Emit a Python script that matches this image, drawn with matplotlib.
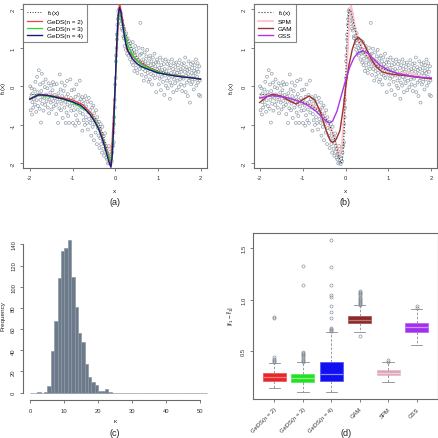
import matplotlib
matplotlib.use("Agg")
import matplotlib.pyplot as plt

plt.rcParams["font.family"] = ["Liberation Sans", "DejaVu Sans"]
plt.rcParams["axes.unicode_minus"] = False
plt.rcParams["mathtext.default"] = "regular"

# ---- simulated sample (shared by panels a and b) ----
pts_x = [
    -1.99, -1.98, -1.97, -1.96, -1.95, -1.94, -1.93, -1.92, -1.91, -1.89, -1.88, -1.87, -1.86, -1.85, -1.84, -1.83, -1.82, -1.81,
    -1.79, -1.78, -1.77, -1.76, -1.75, -1.74, -1.73, -1.72, -1.71, -1.70, -1.69, -1.68, -1.66, -1.65, -1.64, -1.63, -1.62, -1.61,
    -1.59, -1.58, -1.57, -1.56, -1.55, -1.54, -1.52, -1.51, -1.50, -1.49, -1.48, -1.47, -1.46, -1.45, -1.44, -1.43, -1.42, -1.41,
    -1.39, -1.38, -1.37, -1.36, -1.35, -1.34, -1.33, -1.31, -1.30, -1.29, -1.28, -1.27, -1.26, -1.25, -1.24, -1.23, -1.22, -1.21,
    -1.19, -1.18, -1.17, -1.16, -1.15, -1.14, -1.13, -1.12, -1.11, -1.10, -1.09, -1.08, -1.06, -1.05, -1.04, -1.03, -1.02, -1.01,
    -0.99, -0.98, -0.97, -0.96, -0.95, -0.94, -0.93, -0.92, -0.91, -0.90, -0.89, -0.88, -0.86, -0.85, -0.84, -0.83, -0.82, -0.81,
    -0.79, -0.78, -0.77, -0.76, -0.75, -0.74, -0.73, -0.72, -0.71, -0.70, -0.69, -0.68, -0.66, -0.65, -0.64, -0.63, -0.62, -0.61,
    -0.59, -0.58, -0.57, -0.56, -0.55, -0.54, -0.53, -0.52, -0.51, -0.50, -0.49, -0.48, -0.46, -0.45, -0.44, -0.43, -0.42, -0.41,
    -0.39, -0.38, -0.37, -0.36, -0.35, -0.34, -0.33, -0.32, -0.31, -0.30, -0.29, -0.28, -0.27, -0.26, -0.25, -0.24, -0.23, -0.22, -0.21,
    -0.20, -0.19, -0.18, -0.17, -0.16, -0.15, -0.14, -0.13, -0.12, -0.11, -0.10, -0.09, -0.08, -0.07, -0.06,
    -0.05, -0.04, -0.035, -0.03, -0.02, -0.015, -0.01, 0.0, 0.01, 0.015, 0.02, 0.03, 0.035, 0.04, 0.05,
    0.06, 0.07, 0.08, 0.09, 0.10, 0.11, 0.12, 0.13, 0.14, 0.15, 0.16, 0.17, 0.18, 0.19,
    0.20, 0.21, 0.22, 0.23, 0.24, 0.25, 0.26, 0.27, 0.28, 0.29, 0.30, 0.31, 0.32, 0.33, 0.34, 0.35, 0.36, 0.37, 0.38, 0.39,
    0.40, 0.41, 0.42, 0.43, 0.44, 0.45, 0.46, 0.47, 0.48, 0.49, 0.50, 0.51, 0.52, 0.54, 0.55, 0.56, 0.57, 0.58, 0.59,
    0.60, 0.61, 0.62, 0.63, 0.64, 0.65, 0.66, 0.67, 0.68, 0.69, 0.70, 0.71, 0.72, 0.73, 0.74, 0.75, 0.76, 0.77, 0.78, 0.79,
    0.80, 0.81, 0.82, 0.83, 0.84, 0.85, 0.86, 0.87, 0.88, 0.89, 0.90, 0.91, 0.92, 0.93, 0.94, 0.95, 0.96, 0.97, 0.98, 0.99,
    1.00, 1.01, 1.02, 1.03, 1.04, 1.05, 1.06, 1.07, 1.08, 1.09, 1.10, 1.11, 1.12, 1.13, 1.14, 1.15, 1.16, 1.17, 1.18, 1.19,
    1.20, 1.21, 1.22, 1.23, 1.24, 1.25, 1.26, 1.27, 1.28, 1.29, 1.30, 1.31, 1.32, 1.33, 1.34, 1.35, 1.36, 1.37, 1.38, 1.39,
    1.40, 1.41, 1.42, 1.43, 1.44, 1.45, 1.46, 1.47, 1.48, 1.49, 1.50, 1.51, 1.52, 1.53, 1.54, 1.55, 1.56, 1.57, 1.58, 1.59,
    1.60, 1.61, 1.62, 1.63, 1.64, 1.65, 1.66, 1.67, 1.68, 1.69, 1.70, 1.71, 1.72, 1.73, 1.74, 1.75, 1.76, 1.77, 1.78, 1.79,
    1.80, 1.81, 1.82, 1.83, 1.84, 1.85, 1.86, 1.87, 1.88, 1.89, 1.90, 1.91, 1.92, 1.93, 1.94, 1.95, 1.96, 1.97, 1.98, 1.99,
]
pts_y = [
    0.00, -0.62, -0.28, -0.05, -0.73, -0.41, -0.18, -0.55, -0.33, -0.08, -0.47, 0.12, -0.25, -0.66, -0.36, 0.25, -0.15, -0.51,
    0.42, -0.22, -0.58, 0.05, -0.35, -0.94, -0.12, 0.33, -0.45, -0.27, 0.10, -0.63, -0.30, -0.02, -0.48, 0.18, -0.21, -0.39,
    -0.05, -0.55, -0.28, 0.08, -0.70, -0.33, -0.16, -0.42, 0.02, -0.60, -0.25, -0.10, 0.11, -0.38, -0.52, 0.05, -0.22, -0.31,
    -0.48, -0.72, 0.06, -0.27, -0.40, -0.95, -0.18, -0.57, 0.31, -0.33, -0.08, -0.62, -0.45, 0.10, -0.25, -0.82, -0.36, -0.12,
    -0.55, 0.02, -0.40, -0.95, -0.28, -0.68, 0.14, -0.47, -0.20, -0.77, -0.36, -0.95, -0.52, 0.18, -0.30, -0.63, -0.10, -0.44,
    -0.95, -0.35, -0.62, -0.08, -0.50, -1.02, -0.27, -0.75, 0.05, -0.43, -0.88, -0.60, -0.22, -0.95, -0.40, 0.15, -0.68, -0.33,
    -0.55, -0.28, -1.15, -0.72, -0.45, -0.88, -0.35, -0.60, -1.00, -0.25, -0.80, -0.52, -0.95, -0.40, -1.12, -0.68, -0.30, -0.85,
    -0.62, -0.95, -0.42, -1.28, -0.78, -0.55, -1.05, -0.88, -0.50, -1.40, -0.70, -0.98, -1.20, -0.62, -0.90, -1.50, -0.80, -1.08,
    -1.28, -0.92, -1.60, -1.10, -1.35, -0.98, -1.50, -1.22, -1.72, -1.05, -1.42, -1.62, -1.30, -1.80, -1.48, -1.22, -1.70, -1.55, -1.85,
    -1.62, -1.90, -1.75, -2.00, -1.80, -1.55, -1.98, -1.82, -1.70, -2.02, -1.88, -1.60, -1.95, -1.72, -1.50,
    -1.55, -1.20, -1.45, -0.98, -0.80, -0.35, -0.55, 0.05, 0.22, 0.65, 0.80, 1.00, 1.35, 1.22, 1.60,
    1.75, 1.95, 1.85, 2.00, 1.70, 1.95, 1.80, 1.62, 1.90, 1.50, 1.72, 1.45, 1.60, 1.30,
    1.25, 1.50, 1.05, 1.30, 1.20, 0.95, 1.38, 1.12, 0.85, 1.25, 1.00, 0.80, 1.18, 0.92, 1.05, 0.70, 1.12, 0.85, 0.98, 0.62,
    0.88, 1.15, 0.55, 0.72, 0.95, 0.40, 0.82, 1.05, 0.62, 0.48, 0.90, 0.75, 0.35, 0.58, 1.00, 0.68, 0.45, 0.82, 1.65,
    0.52, 0.85, 0.30, 0.62, 0.98, 0.45, 0.70, 0.15, 0.55, 0.88, 0.40, 0.65, 0.25, 0.78, 0.50, 0.95, 0.35, 0.60, 0.12, 0.72,
    0.45, 0.18, 0.80, 0.55, 0.32, 0.65, 0.05, 0.48, 0.75, 0.28, 0.58, 0.40, 0.85, 0.22, 0.52, 0.62, -0.15, 0.38, 0.70, 0.45,
    0.30, 0.62, 0.05, 0.48, 0.20, 0.75, 0.38, -0.10, 0.55, 0.25, 0.42, 0.68, 0.12, 0.35, 0.58, -0.22, 0.45, 0.28, 0.70, 0.02,
    0.40, 0.15, 0.58, -0.05, 0.32, 0.65, 0.22, 0.48, -0.32, 0.10, 0.55, 0.35, 0.02, 0.70, 0.25, 0.45, -0.15, 0.60, 0.18, 0.38,
    0.08, 0.50, 0.28, 0.62, -0.10, 0.35, 0.15, 0.55, 0.42, -0.02, 0.30, 0.68, 0.18, 0.45, 0.05, 0.38, 0.58, -0.12, 0.25, 0.48,
    0.20, 0.60, 0.02, 0.38, 0.75, -0.15, 0.28, 0.50, 0.10, 0.42, -0.25, 0.32, 0.65, 0.15, 0.45, -0.42, 0.22, 0.58, 0.05, 0.35,
    0.48, 0.12, 0.62, 0.28, -0.08, 0.40, 0.55, 0.18, 0.35, 0.70, 0.02, 0.45, 0.25, 0.60, 0.10, 0.38, -0.22, 0.52, 0.15, -0.25,
]

# ---- true function f1 (values read at selected x) ----
f1_x = [-2, -1.5, -1, -0.8, -0.6, -0.5, -0.4, -0.3, -0.25, -0.2, -0.16, -0.13, -0.1, -0.08, -0.06, -0.04, -0.02, 0,
        0.02, 0.04, 0.06, 0.08, 0.1, 0.13, 0.16, 0.2, 0.25, 0.3, 0.4, 0.5, 0.6, 0.8, 1, 1.5, 2]
f1_y = [-0.2, -0.27, -0.4, -0.49, -0.65, -0.77, -0.94, -1.2, -1.38, -1.6, -1.79, -1.94, -2.0, -1.95, -1.76, -1.38, -0.77, 0,
        0.77, 1.38, 1.76, 1.95, 2.0, 1.94, 1.79, 1.6, 1.38, 1.2, 0.94, 0.77, 0.65, 0.49, 0.4, 0.27, 0.2]

# ---- GeDS fits (panel a) ----
geds2_x = [-2.0, -1.75, -1.35, -1.0, -0.75, -0.55, -0.35, -0.2, -0.1, 0.1, 0.18, 0.27, 0.5, 0.8, 1.1, 1.5, 2.0]
geds2_y = [-0.34, -0.2, -0.27, -0.35, -0.48, -0.72, -1.15, -1.65, -2.0, 2.2, 1.7, 0.95, 0.68, 0.48, 0.33, 0.28, 0.18]
geds3_x = [-2.0, -1.8, -1.6, -1.3, -1.0, -0.8, -0.65, -0.5, -0.4, -0.3, -0.2, -0.12, -0.08, -0.04, 0.0, 0.04, 0.08,
           0.11, 0.15, 0.2, 0.3, 0.4, 0.6, 0.8, 1.0, 1.3, 1.6, 2.0]
geds3_y = [-0.32, -0.23, -0.25, -0.30, -0.42, -0.55, -0.64, -0.85, -1.05, -1.35, -1.7, -1.92, -1.9, -1.2, 0.0, 1.3, 1.85,
           1.85, 1.75, 1.45, 1.05, 0.82, 0.58, 0.47, 0.37, 0.3, 0.25, 0.19]
geds4_x = [-2.0, -1.8, -1.6, -1.4, -1.2, -1.0, -0.8, -0.7, -0.6, -0.5, -0.4, -0.3, -0.2, -0.15, -0.1, -0.07, -0.04, 0.0,
           0.04, 0.07, 0.1, 0.13, 0.17, 0.2, 0.25, 0.3, 0.4, 0.5, 0.6, 0.8, 1.0, 1.2, 1.4, 1.6, 1.8, 2.0]
geds4_y = [-0.33, -0.22, -0.23, -0.28, -0.33, -0.4, -0.5, -0.6, -0.72, -0.88, -1.08, -1.37, -1.75, -1.95, -2.1, -1.8, -1.1, 0.05,
           1.2, 1.85, 2.05, 1.95, 1.65, 1.4, 1.1, 0.92, 0.72, 0.6, 0.52, 0.43, 0.35, 0.31, 0.27, 0.24, 0.22, 0.19]

# ---- competitor fits (panel b) ----
spm_x = [-2.0, -1.7, -1.4, -1.1, -0.8, -0.6, -0.45, -0.3, -0.2, -0.15, -0.1, -0.05, 0.0, 0.05, 0.1, 0.13, 0.17, 0.22,
         0.3, 0.4, 0.55, 0.7, 0.9, 1.1, 1.3, 1.45, 1.6, 1.8, 2.0]
spm_y = [-0.3, -0.22, -0.3, -0.38, -0.48, -0.62, -0.85, -1.2, -1.55, -1.78, -1.65, -1.1, -0.2, 0.9, 1.85, 2.1, 1.9, 1.55,
         1.2, 0.95, 0.72, 0.57, 0.45, 0.37, 0.33, 0.38, 0.3, 0.24, 0.2]
gam_x = [-2.0, -1.85, -1.7, -1.5, -1.3, -1.15, -1.0, -0.85, -0.72, -0.6, -0.45, -0.35, -0.3, -0.22, -0.13, -0.05, 0.0,
         0.08, 0.16, 0.23, 0.3, 0.38, 0.47, 0.58, 0.71, 0.85, 1.0, 1.2, 1.4, 1.6, 1.8, 2.0]
gam_y = [-0.42, -0.28, -0.2, -0.25, -0.38, -0.46, -0.35, -0.25, -0.35, -0.62, -1.15, -1.42, -1.45, -1.38, -1.15, -0.55, -0.05,
         0.55, 0.97, 1.2, 1.27, 1.2, 1.02, 0.75, 0.52, 0.38, 0.33, 0.3, 0.28, 0.25, 0.22, 0.2]
gss_x = [-2.0, -1.7, -1.4, -1.1, -0.9, -0.7, -0.55, -0.45, -0.38, -0.3, -0.2, -0.1, 0.0, 0.1, 0.2, 0.3, 0.4, 0.5,
         0.65, 0.8, 1.0, 1.2, 1.5, 1.8, 2.0]
gss_y = [-0.3, -0.24, -0.28, -0.38, -0.48, -0.63, -0.8, -0.9, -0.95, -0.9, -0.65, -0.25, 0.15, 0.5, 0.75, 0.88, 0.92, 0.88,
         0.72, 0.55, 0.42, 0.34, 0.27, 0.23, 0.22]

# ---- histogram of kappa (panel c), unit-width bins starting at 0 ----
kappa_counts = [0, 0, 1, 0, 1, 6, 39, 68, 108, 134, 137, 144, 109, 81, 56, 48, 27, 15, 10, 7, 2, 2, 3, 1] + [0] * 28

# ---- boxplot summaries (panel d) ----
box_names = ["GeDS(n = 2)", "GeDS(n = 3)", "GeDS(n = 4)", "GAM", "SPM", "GSS"]
box_q1 = [0.215, 0.200, 0.210, 0.771, 0.268, 0.684]
box_med = [0.248, 0.240, 0.283, 0.803, 0.290, 0.732]
box_q3 = [0.287, 0.277, 0.397, 0.839, 0.316, 0.774]
box_lo = [0.142, 0.109, 0.103, 0.684, 0.200, 0.558]
box_hi = [0.387, 0.393, 0.684, 0.945, 0.397, 0.907]
box_fliers = [
    [0.40, 0.41, 0.42, 0.43, 0.44, 0.82, 0.83],
    [0.40, 0.41, 0.42, 0.43, 0.44, 0.45, 0.46, 0.47, 0.48, 0.49, 1.145, 1.33],
    [0.70, 0.71, 0.72, 0.73, 0.82, 0.877, 0.935, 1.03, 1.04, 1.145, 1.32, 1.578],
    [0.645, 0.95, 0.96, 0.97, 0.98, 0.99, 1.00, 1.01, 1.02, 1.03, 1.04, 1.05, 1.06, 1.07, 1.08],
    [0.40, 0.42],
    [0.92, 0.94],
]
box_colors = ["#E8262A", "#22E022", "#1010F0", "#8B2A2A", "#DDA5B5", "#A030F0"]
box_edges = ["#F05A5C", "#5CEB5C", "#5858F4", "#A45858", "#E8BFCB", "#BA68F4"]
box_medcolors = ["#F47C7E", "#8EF08E", "#8C8CF8", "#C07878", "#F0D2DA", "#D095F8"]

FRAME = "#6a6a6a"
TICK_FS = 4.2
PT_COLOR = "#8A96A2"

W, H = 438, 439
fig = plt.figure(figsize=(W / 100, H / 100), dpi=100)


def ax_at(left, top, right, bottom):
    return fig.add_axes([left / W, 1 - bottom / H, (right - left) / W, (bottom - top) / H])


def style_axes(ax, box=True):
    for sp in ax.spines.values():
        sp.set_color(FRAME)
        sp.set_linewidth(0.8)
        sp.set_visible(box)
    ax.tick_params(length=2.4, width=0.6, color=FRAME, labelsize=TICK_FS, labelcolor="#333333", pad=2.8)
    for lab in ax.get_yticklabels():
        lab.set_rotation(90)
        lab.set_va("center")
        lab.set_ha("right")


def label(x, y, s, size=4.6, rot=0):
    fig.text(x / W, 1 - y / H, s, ha="center", va="center", fontsize=size, rotation=rot, color="#222222")


# ---- panel (a) ----
ax = ax_at(23, 5, 207, 169)
ax.scatter(pts_x, pts_y, s=4.5, facecolors="none", edgecolors=PT_COLOR, linewidths=0.45, zorder=1)
ax.plot(f1_x, f1_y, ":", color="#333333", lw=0.7, label=r"$f_1(x)$", zorder=2)
ax.plot(geds2_x, geds2_y, color="#F04040", lw=0.9, label="GeDS(n = 2)", zorder=3)
ax.plot(geds3_x, geds3_y, color="#22DD22", lw=0.9, label="GeDS(n = 3)", zorder=4)
ax.plot(geds4_x, geds4_y, color="#1A1A80", lw=1.0, label="GeDS(n = 4)", zorder=5)
ax.set_xlim(-2.16, 2.15)
ax.set_ylim(-2.12, 2.14)
ax.set_xticks([-2, -1, 0, 1, 2])
ax.set_yticks([-2, -1, 0, 1, 2])
style_axes(ax)
leg = ax.legend(loc="upper left", fontsize=4.6, frameon=True, fancybox=False, borderaxespad=0,
                handlelength=2.4, labelspacing=0.25, borderpad=0.6, handletextpad=0.8)
leg.get_frame().set_edgecolor(FRAME)
leg.get_frame().set_linewidth(0.8)
label(115, 192, "x")
label(4, 88, r"$f_1(x)$", rot=90)
label(115, 203, "(a)", size=6.5)

# ---- panel (b) ----
ax = ax_at(253.7, 5, 437.3, 169)
ax.scatter(pts_x, pts_y, s=4.5, facecolors="none", edgecolors=PT_COLOR, linewidths=0.45, zorder=1)
ax.plot(f1_x, f1_y, ":", color="#333333", lw=0.8, label=r"$f_1(x)$", zorder=3)
ax.plot(spm_x, spm_y, color="#FFC0CB", lw=1.3, label="SPM", zorder=2)
ax.plot(gam_x, gam_y, color="#A0302E", lw=1.0, label="GAM", zorder=4)
ax.plot(gss_x, gss_y, color="#A838E8", lw=1.0, label="GSS", zorder=5)
ax.set_xlim(-2.14, 2.14)
ax.set_ylim(-2.12, 2.14)
ax.set_xticks([-2, -1, 0, 1, 2])
ax.set_yticks([-2, -1, 0, 1, 2])
style_axes(ax)
leg = ax.legend(loc="upper left", fontsize=4.6, frameon=True, fancybox=False, borderaxespad=0,
                handlelength=2.4, labelspacing=0.25, borderpad=0.6, handletextpad=0.8)
leg.get_frame().set_edgecolor(FRAME)
leg.get_frame().set_linewidth(0.8)
label(345.5, 192, "x")
label(231, 88, r"$f_1(x)$", rot=90)
label(345.5, 203, "(b)", size=6.5)

# ---- panel (c) ----
ax = ax_at(23.3, 235, 214, 400)
ax.bar(range(len(kappa_counts)), kappa_counts, width=1, align="edge", color="#6C7B8B",
       edgecolor="#8E98A4", linewidth=0.5)
ax.set_xlim(-2.08, 54.08)
ax.set_ylim(-6, 149.8)
ax.set_xticks(range(0, 51, 10))
ax.set_yticks(range(0, 141, 20))
style_axes(ax, box=False)
for side in ("left", "bottom"):
    ax.spines[side].set_visible(True)
ax.spines["left"].set_bounds(0, 140)
ax.spines["bottom"].set_bounds(0, 50)
ax.spines["bottom"].set_position(("outward", 1))
label(115, 422, "κ")
label(3, 316, "Frequency", rot=90)
label(115, 434, "(c)", size=6.5)

# ---- panel (d) ----
ax = ax_at(253.3, 234.3, 437.7, 399.7)
stats = []
for i, name in enumerate(box_names):
    stats.append(dict(label=name, q1=box_q1[i], med=box_med[i], q3=box_q3[i],
                      whislo=box_lo[i], whishi=box_hi[i], fliers=box_fliers[i]))
bp = ax.bxp(stats, positions=range(1, 7), widths=0.8, capwidths=0.4, patch_artist=True,
            whiskerprops=dict(color="#8a8a8a", linestyle=(0, (3, 2)), lw=0.6),
            capprops=dict(color="#8a8a8a", lw=0.6),
            flierprops=dict(marker="o", markersize=2.2, markerfacecolor="none",
                            markeredgecolor="#7F8A96", markeredgewidth=0.45),
            medianprops=dict(lw=0.9))
for patch, c, e in zip(bp["boxes"], box_colors, box_edges):
    patch.set_facecolor(c)
    patch.set_edgecolor(e)
    patch.set_linewidth(0.6)
for med, c in zip(bp["medians"], box_medcolors):
    med.set_color(c)
ax.set_xlim(0.26, 6.74)
ax.set_ylim(0.041, 1.642)
ax.set_yticks([0.5, 1.0, 1.5])
style_axes(ax)
ax.set_xticklabels(box_names, rotation=45, ha="right", rotation_mode="anchor", fontsize=TICK_FS)
label(231, 316, r"$|f_1 - \hat{f}_1|$", rot=90)
label(345.7, 434, "(d)", size=6.5)

fig.savefig("out.png", dpi=100)
